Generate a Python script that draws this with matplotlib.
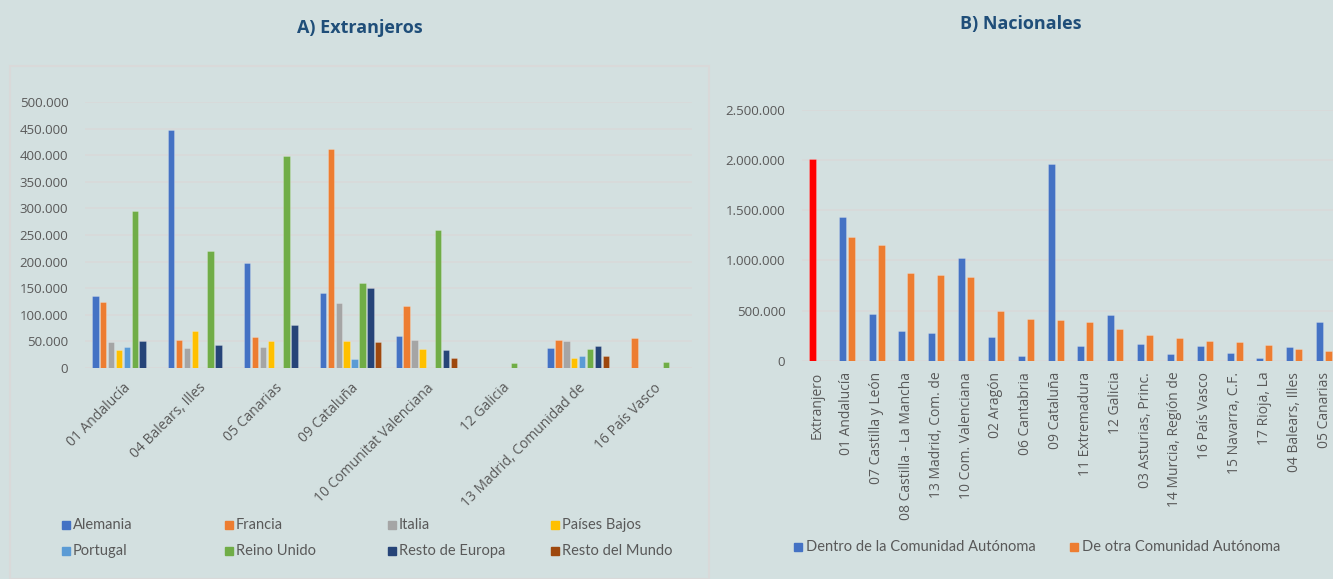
import numpy as np
import matplotlib.pyplot as plt
from matplotlib.patches import Rectangle
from matplotlib.ticker import FuncFormatter

# A) Extranjeros
regiones_a = ["01 Andalucía", "04 Balears, Illes", "05 Canarias", "09 Cataluña",
              "10 Comunitat Valenciana", "12 Galicia", "13 Madrid, Comunidad de",
              "16 País Vasco"]
paises = ["Alemania", "Francia", "Italia", "Países Bajos",
          "Portugal", "Reino Unido", "Resto de Europa", "Resto del Mundo"]
alemania = [135000, 448000, 198000, 141000, 60000, 0, 38000, 0]
francia = [124000, 53000, 59000, 411000, 117000, 0, 53000, 57000]
italia = [49000, 37000, 39000, 123000, 53000, 0, 51000, 0]
paises_bajos = [34500, 70000, 51000, 51000, 36000, 0, 18000, 0]
portugal = [40000, 0, 0, 17000, 0, 0, 23000, 0]
reino_unido = [296000, 220000, 399000, 160000, 260000, 9000, 35000, 11000]
resto_europa = [51000, 44000, 80000, 150000, 34000, 0, 41000, 0]
resto_mundo = [0, 0, 0, 48000, 19000, 0, 23000, 0]
series_a = [alemania, francia, italia, paises_bajos,
            portugal, reino_unido, resto_europa, resto_mundo]
colores_a = ["#4472C4", "#ED7D31", "#A5A5A5", "#FFC000",
             "#5B9BD5", "#70AD47", "#264478", "#9E480E"]

# B) Nacionales
regiones_b = ["Extranjero", "01 Andalucía", "07 Castilla y León", "08 Castilla - La Mancha",
              "13 Madrid, Com. de", "10 Com. Valenciana", "02 Aragón", "06 Cantabria",
              "09 Cataluña", "11 Extremadura", "12 Galicia", "03 Asturias, Princ.",
              "14 Murcia, Región de", "16 País Vasco", "15 Navarra, C.F.", "17 Rioja, La",
              "04 Balears, Illes", "05 Canarias"]
dentro = [2011000, 1433000, 469000, 296000, 279000, 1027000, 239000, 47000,
          1965000, 150000, 452000, 166000, 70000, 143000, 76000, 27000, 136000, 386000]
otra = [0, 1230000, 1150000, 871000, 854000, 838000, 499000, 412000,
        406000, 386000, 312000, 253000, 226000, 199000, 186000, 153000, 116000, 93000]
nombres_b = ["Dentro de la Comunidad Autónoma", "De otra Comunidad Autónoma"]

BG = "#D3E0E0"
GRID = "#D9D9D9"
TXT = "#595959"
TITLE = "#1F4E79"
W, H = 1333, 579

plt.rcParams['font.family'] = ['Open Sans', 'DejaVu Sans']

fig = plt.figure(figsize=(W / 100, H / 100), dpi=100, facecolor=BG)


def px(x0, y0, x1, y1):
    # pixel box (top-left origin) -> figure fraction
    return [x0 / W, 1 - y1 / H, (x1 - x0) / W, (y1 - y0) / H]


fmt = FuncFormatter(lambda v, p: f"{int(v):,}".replace(",", "."))

# panel border of the left chart
fig.patches.append(Rectangle((10 / W, 0), (709 - 10) / W, 1 - 66 / H, transform=fig.transFigure,
                             fill=False, edgecolor=GRID, lw=1.5))

# ---- left chart
ax1 = fig.add_axes(px(85, 102, 692, 368))
ax1.set_facecolor(BG)
x = np.arange(len(regiones_a))
slot = 0.104
for i, (vals, c) in enumerate(zip(series_a, colores_a)):
    off = (i - 3.5) * slot
    ax1.bar(x + off, vals, width=0.085, color=c, edgecolor=(1, 1, 1, 0.25), lw=0.6,
            label=paises[i], zorder=3)
ax1.set_xlim(-0.5, len(regiones_a) - 0.5)
ax1.set_ylim(0, 500000)
ax1.set_yticks(np.arange(0, 500001, 50000))
ax1.yaxis.set_major_formatter(fmt)
ax1.grid(axis='y', color=GRID, lw=1.2, zorder=0)
for s in ax1.spines.values():
    s.set_visible(False)
ax1.tick_params(axis='both', length=0, colors=TXT)
ax1.tick_params(axis='y', pad=12, labelsize=9.5)
ax1.set_xticks(x)
ax1.set_xticklabels(regiones_a, rotation=45, ha='right', va='top', rotation_mode='anchor')
ax1.tick_params(axis='x', pad=9, labelsize=10)

# ---- right chart
ax2 = fig.add_axes(px(802, 110, 1339, 360.7))
ax2.set_facecolor(BG)
xb = np.arange(len(regiones_b))
colores_dentro = ["#FF0000"] + ["#4472C4"] * (len(regiones_b) - 1)
ax2.bar(xb - 0.15, dentro, width=0.235, color=colores_dentro, edgecolor=(1, 1, 1, 0.25),
        lw=0.6, zorder=3)
ax2.bar(xb + 0.15, otra, width=0.235, color="#ED7D31", edgecolor=(1, 1, 1, 0.25),
        lw=0.6, zorder=3)
ax2.set_xlim(-0.5, len(regiones_b) - 0.5)
ax2.set_ylim(0, 2500000)
ax2.set_yticks(np.arange(0, 2500001, 500000))
ax2.yaxis.set_major_formatter(fmt)
ax2.grid(axis='y', color=GRID, lw=1.2, zorder=0)
for s in ax2.spines.values():
    s.set_visible(False)
ax2.tick_params(axis='both', length=0, colors=TXT)
ax2.tick_params(axis='y', pad=12, labelsize=9.5)
ax2.set_xticks(xb)
ax2.set_xticklabels(regiones_b, rotation=90, ha='center', va='top')
ax2.tick_params(axis='x', pad=8, labelsize=10)

# ---- titles
fig.text(360 / W, 1 - 28 / H, "A) Extranjeros", ha='center', va='center',
         fontsize=13, fontweight='bold', color=TITLE)
fig.text(1021 / W, 1 - 24 / H, "B) Nacionales", ha='center', va='center',
         fontsize=13, fontweight='bold', color=TITLE)

# ---- legends (Excel style: equal-width columns)
for i, (name, c) in enumerate(zip(paises, colores_a)):
    col, row = i % 4, i // 4
    lx = 62 + col * 163
    ly = 525 + row * 26
    fig.patches.append(Rectangle((lx / W, 1 - (ly + 4) / H), 8 / W, 8 / H,
                                 transform=fig.transFigure, color=c))
    fig.text((lx + 11) / W, 1 - ly / H, name, ha='left', va='center',
             fontsize=10.5, color=TXT, family=['Lato', 'DejaVu Sans'])

for i, (name, c) in enumerate(zip(nombres_b, ["#4472C4", "#ED7D31"])):
    lx = 794 + i * 276
    ly = 547
    fig.patches.append(Rectangle((lx / W, 1 - (ly + 4) / H), 8 / W, 8 / H,
                                 transform=fig.transFigure, color=c))
    fig.text((lx + 12) / W, 1 - ly / H, name, ha='left', va='center',
             fontsize=10.5, color=TXT, family=['Lato', 'DejaVu Sans'])

fig.savefig("out.png", dpi=100, facecolor=BG)
